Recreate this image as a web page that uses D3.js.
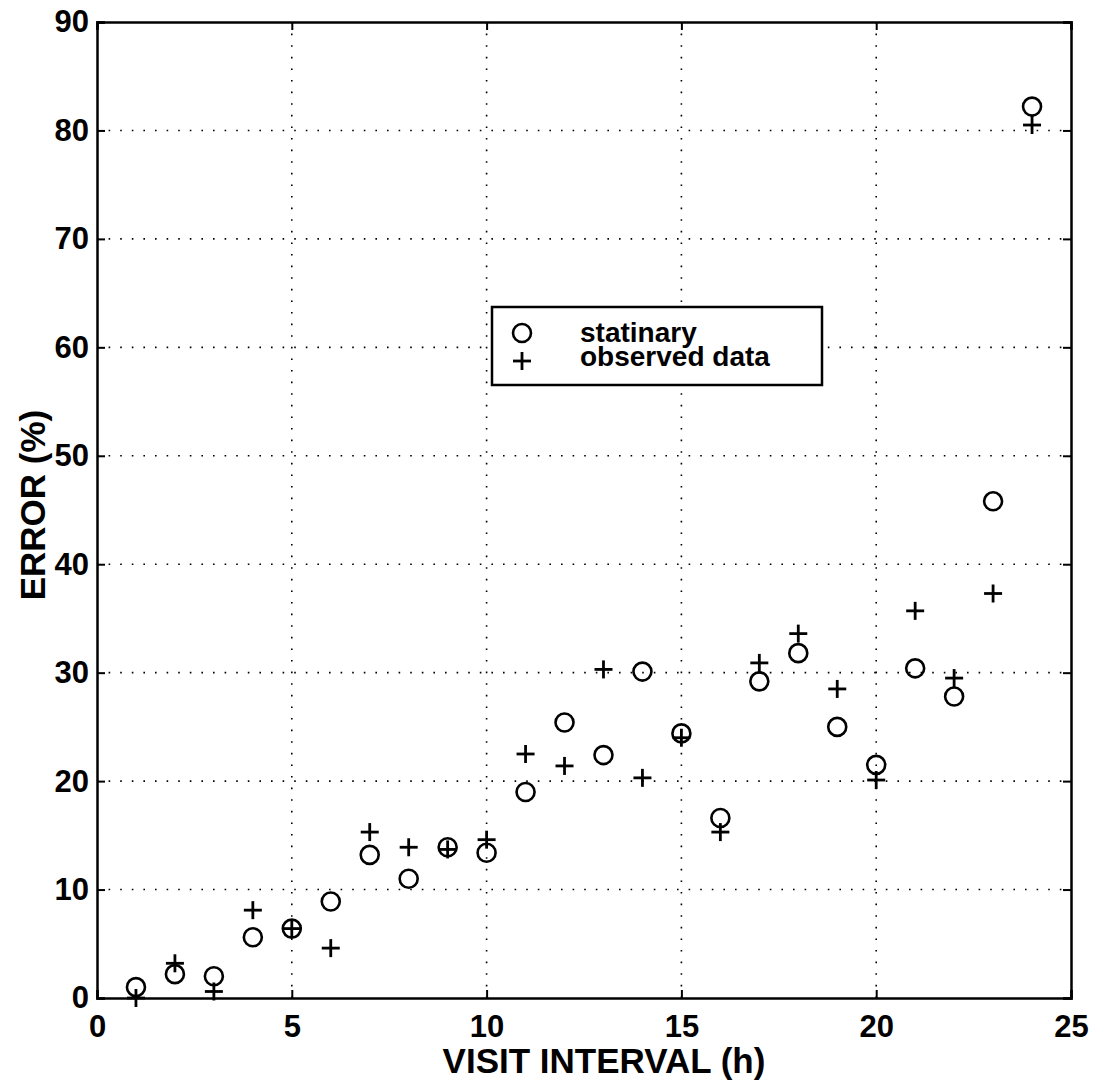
<!DOCTYPE html>
<html>
<head>
<meta charset="utf-8">
<script src="https://cdn.jsdelivr.net/npm/d3@7"></script>
<style>
body { margin: 0; background: #fff; }
text { font-family: "Liberation Sans", Arial, sans-serif; font-weight: bold; fill: #000; }
</style>
</head>
<body>
<script>
// visit interval (h)
var hours = [1,2,3,4,5,6,7,8,9,10,11,12,13,14,15,16,17,18,19,20,21,22,23,24];
// error (%) - statinary model (circles)
var statinary = [1.0,2.2,2.0,5.6,6.4,8.9,13.2,11.0,13.9,13.4,19.0,25.4,22.4,30.1,24.4,16.6,29.2,31.8,25.0,21.5,30.4,27.8,45.8,82.2];
// error (%) - observed data (plus)
var observed = [0.0,3.2,0.6,8.1,6.4,4.6,15.3,13.9,13.7,14.6,22.5,21.4,30.3,20.3,24.0,15.3,30.9,33.6,28.5,20.1,35.7,29.5,37.3,80.5];
var xTicks = [0,5,10,15,20,25];
var yTicks = [0,10,20,30,40,50,60,70,80,90];
var legendLabels = ["statinary", "observed data"];

var W = 1095, H = 1085;
var mLeft = 97, mRight = 1071, mTop = 22, mBottom = 998;

var svg = d3.select("body").append("svg")
	.attr("width", W)
	.attr("height", H);

var x = d3.scaleLinear().domain([0,25]).range([mLeft,mRight]);
var y = d3.scaleLinear().domain([0,90]).range([mBottom,mTop]);

// dotted grid
var grid = svg.append("g").attr("stroke","#000").attr("stroke-width",1.6).attr("stroke-dasharray","1.6,10");
grid.selectAll("line.gx").data(xTicks.slice(1,-1)).enter().append("line")
	.attr("x1", function(d){return x(d);}).attr("x2", function(d){return x(d);})
	.attr("y1", mBottom).attr("y2", mTop);
grid.selectAll("line.gy").data(yTicks.slice(1,-1)).enter().append("line")
	.attr("y1", function(d){return y(d);}).attr("y2", function(d){return y(d);})
	.attr("x1", mLeft).attr("x2", mRight);

// axes, ticks inward
var gx = svg.append("g").attr("transform","translate(0,"+mBottom+")")
	.call(d3.axisBottom(x).tickValues(xTicks).tickSize(-8).tickPadding(17));
var gy = svg.append("g").attr("transform","translate("+mLeft+",0)")
	.call(d3.axisLeft(y).tickValues(yTicks).tickSize(-8).tickPadding(8));
svg.append("g").attr("transform","translate(0,"+mTop+")")
	.call(d3.axisTop(x).tickValues(xTicks).tickSize(-8).tickFormat(""));
svg.append("g").attr("transform","translate("+mRight+",0)")
	.call(d3.axisRight(y).tickValues(yTicks).tickSize(-8).tickFormat(""));
svg.selectAll(".domain").attr("stroke","#000").attr("stroke-width",2.5);
svg.selectAll(".tick line").attr("stroke","#000").attr("stroke-width",2);
gx.selectAll("text").attr("font-size",31).attr("font-family","Liberation Sans").attr("font-weight","bold");
gy.selectAll("text").attr("font-size",31).attr("font-family","Liberation Sans").attr("font-weight","bold");

// axis labels
svg.append("text").attr("x", 604).attr("y", 1073).attr("text-anchor","middle")
	.attr("font-size",35).text("VISIT INTERVAL (h)");
svg.append("text").attr("transform","translate(45,505) rotate(-90)").attr("text-anchor","middle")
	.attr("font-size",35).text("ERROR (%)");

// markers
var r = 9;
svg.selectAll("circle.st").data(hours).enter().append("circle")
	.attr("cx", function(d){return x(d);})
	.attr("cy", function(d,i){return y(statinary[i]);})
	.attr("r", r).attr("fill","none").attr("stroke","#000").attr("stroke-width",2.6);

function plus(g, cx, cy){
	g.append("line").attr("x1",cx-9).attr("x2",cx+9).attr("y1",cy).attr("y2",cy);
	g.append("line").attr("x1",cx).attr("x2",cx).attr("y1",cy-9).attr("y2",cy+9);
}
var pg = svg.append("g").attr("stroke","#000").attr("stroke-width",2.8);
hours.forEach(function(d,i){ plus(pg, x(d), y(observed[i])); });

// legend
var lg = svg.append("g");
lg.append("rect").attr("x",492).attr("y",307).attr("width",330).attr("height",78)
	.attr("fill","#fff").attr("stroke","#000").attr("stroke-width",2.5);
lg.append("circle").attr("cx",522).attr("cy",333).attr("r",r)
	.attr("fill","none").attr("stroke","#000").attr("stroke-width",2.6);
var lp = lg.append("g").attr("stroke","#000").attr("stroke-width",2.8);
plus(lp, 522, 361);
lg.selectAll("text.leg").data(legendLabels).enter().append("text")
	.attr("x",580).attr("y",function(d,i){return 342+i*24;})
	.attr("font-size",28).text(function(d){return d;});
</script>
</body>
</html>
